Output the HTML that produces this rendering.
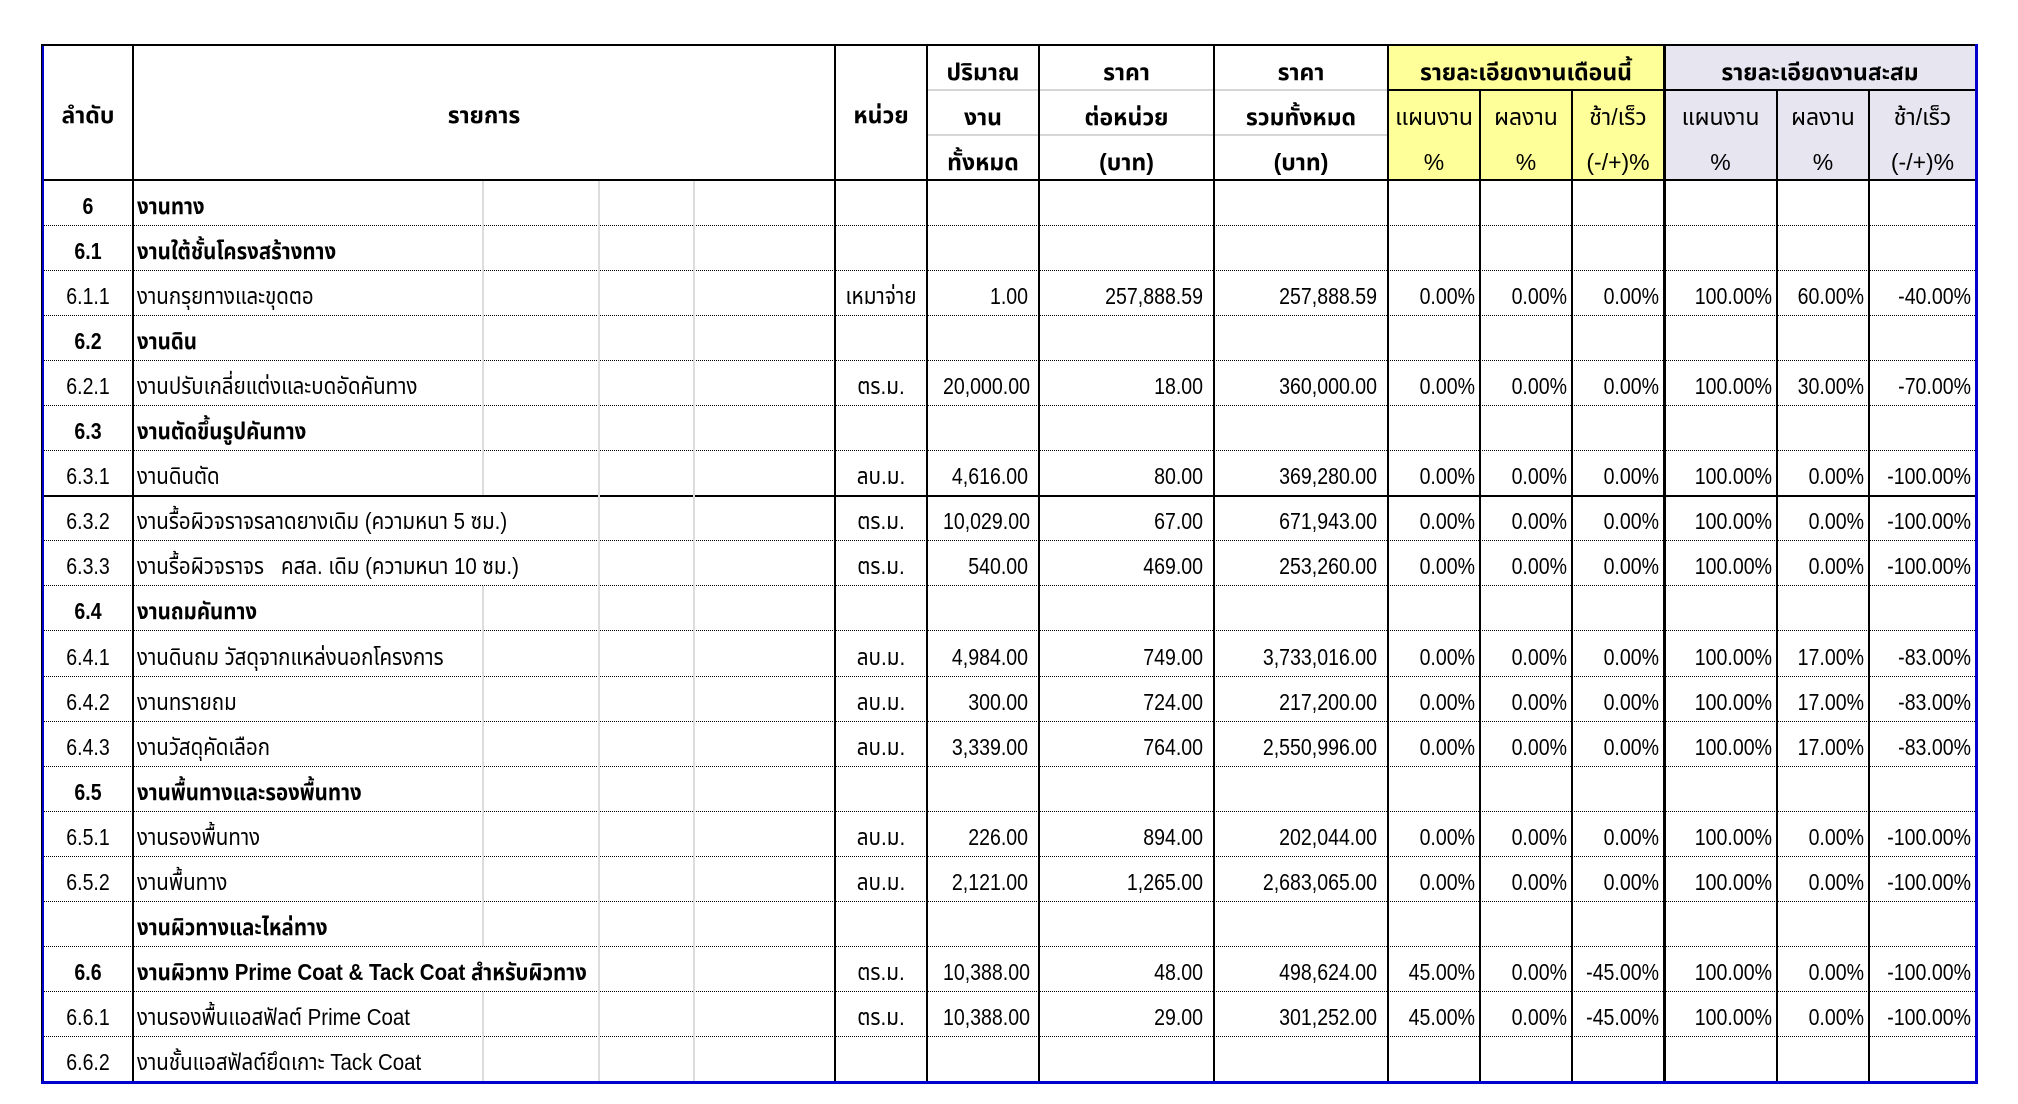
<!DOCTYPE html>
<html><head><meta charset="utf-8">
<style>
html,body{margin:0;padding:0}
body{width:2018px;height:1104px;background:#fff;position:relative;overflow:hidden}
.bg{position:absolute}
.h{position:absolute;left:43px;width:1932px;height:0;border-top:1px dotted #000}
.hs{position:absolute;height:2px;background:#000}
.v{position:absolute;width:2px;background:#000}
.g{position:absolute;width:2px;background:#dcdcdc}
.t{position:absolute;white-space:nowrap;color:#000;font-size:23px;line-height:22px;
 font-family:"Liberation Sans Narrow","Liberation Sans","Noto Sans Thai","Noto Sans Thai UI","Garuda","Loma","Tlwg Typo","DejaVu Sans","WenQuanYi Zen Hei",sans-serif}
.c{text-align:center}
.r{text-align:right}
.b{font-weight:bold}
.a{left:43px;width:90px;text-align:center;transform:scaleX(.85)}
.i{left:137px;transform:scaleX(.89);transform-origin:left center}
.u{left:836px;width:90px;text-align:center;transform:scaleX(.9)}
.q,.p,.s,.x1,.x2,.x3,.y1,.y2,.y3{text-align:right;transform:scaleX(.85);transform-origin:right center}
.q{left:928px;width:100px}
.p{left:1040px;width:163px}
.s{left:1215px;width:162px}
.x1{left:1389px;width:86px}
.x2{left:1481px;width:86px}
.x3{left:1573px;width:86px}
.y1{left:1665px;width:107px}
.y2{left:1778px;width:86px}
.y3{left:1870px;width:101px}
</style></head><body>

<!-- header backgrounds -->
<div class="bg" style="left:1388px;top:44px;width:276px;height:136px;background:#ffff99"></div>
<div class="bg" style="left:1664px;top:44px;width:311px;height:136px;background:#e7e5f0"></div>

<!-- header gray separators -->
<div class="bg" style="left:927px;top:89px;width:461px;height:2px;background:#d6d6d6"></div>
<div class="bg" style="left:927px;top:134px;width:461px;height:2px;background:#d6d6d6"></div>

<!-- horizontal solid lines -->
<div class="hs" style="left:41px;top:44px;width:1936px"></div>
<div class="hs" style="left:1388px;top:89px;width:587px"></div>
<div class="hs" style="left:41px;top:179px;width:1936px;height:2px"></div>

<!-- row separators -->
<div class="h" style="top:225px"></div>
<div class="h" style="top:270px"></div>
<div class="h" style="top:315px"></div>
<div class="h" style="top:360px"></div>
<div class="h" style="top:405px"></div>
<div class="h" style="top:450px"></div>
<div class="hs" style="left:43px;top:495px;width:1932px;height:2px"></div>
<div class="h" style="top:540px"></div>
<div class="h" style="top:585px"></div>
<div class="h" style="top:630px"></div>
<div class="h" style="top:676px"></div>
<div class="h" style="top:721px"></div>
<div class="h" style="top:766px"></div>
<div class="h" style="top:811px"></div>
<div class="h" style="top:856px"></div>
<div class="h" style="top:901px"></div>
<div class="h" style="top:946px"></div>
<div class="h" style="top:991px"></div>
<div class="h" style="top:1036px"></div>

<!-- gridlines inside item column -->
<div class="g" style="left:482px;top:181px;height:314px"></div>
<div class="g" style="left:482px;top:586px;height:360px"></div>
<div class="g" style="left:482px;top:992px;height:89px"></div>
<div class="g" style="left:598px;top:181px;height:900px"></div>
<div class="g" style="left:693px;top:181px;height:900px"></div>

<!-- vertical lines -->
<div class="v" style="left:132px;top:44px;height:1037px"></div>
<div class="v" style="left:834px;top:44px;height:1037px"></div>
<div class="v" style="left:926px;top:44px;height:1037px"></div>
<div class="v" style="left:1038px;top:44px;height:1037px"></div>
<div class="v" style="left:1213px;top:44px;height:1037px"></div>
<div class="v" style="left:1387px;top:44px;height:1037px"></div>
<div class="v" style="left:1479px;top:89px;height:992px"></div>
<div class="v" style="left:1571px;top:89px;height:992px"></div>
<div class="v" style="left:1663px;top:44px;height:1037px;width:3px"></div>
<div class="v" style="left:1776px;top:89px;height:992px"></div>
<div class="v" style="left:1868px;top:89px;height:992px"></div>

<!-- outer borders -->
<div class="bg" style="left:41px;top:44px;width:1px;height:1040px;background:#000"></div>
<div class="bg" style="left:42px;top:46px;width:2px;height:1038px;background:#0000cc"></div>
<div class="bg" style="left:1975px;top:44px;width:3px;height:1040px;background:#0000cc"></div>
<div class="bg" style="left:41px;top:1081px;width:1937px;height:3px;background:#0000cc"></div>

<!-- header text -->
<div class="t c b" style="left:43px;width:90px;top:104px">ลำดับ</div>
<div class="t c b" style="left:134px;width:700px;top:104px">รายการ</div>
<div class="t c b" style="left:836px;width:90px;top:104px">หน่วย</div>
<div class="t c b" style="left:928px;width:110px;top:61px">ปริมาณ</div>
<div class="t c b" style="left:928px;width:110px;top:106px">งาน</div>
<div class="t c b" style="left:928px;width:110px;top:151px">ทั้งหมด</div>
<div class="t c b" style="left:1040px;width:173px;top:61px">ราคา</div>
<div class="t c b" style="left:1040px;width:173px;top:106px">ต่อหน่วย</div>
<div class="t c b" style="left:1040px;width:173px;top:151px">(บาท)</div>
<div class="t c b" style="left:1215px;width:172px;top:61px">ราคา</div>
<div class="t c b" style="left:1215px;width:172px;top:106px">รวมทั้งหมด</div>
<div class="t c b" style="left:1215px;width:172px;top:151px">(บาท)</div>
<div class="t c b" style="left:1389px;width:274px;top:61px">รายละเอียดงานเดือนนี้</div>
<div class="t c b" style="left:1665px;width:310px;top:61px">รายละเอียดงานสะสม</div>
<div class="t c" style="left:1389px;width:90px;top:106px">แผนงาน</div>
<div class="t c" style="left:1389px;width:90px;top:151px">%</div>
<div class="t c" style="left:1481px;width:90px;top:106px">ผลงาน</div>
<div class="t c" style="left:1481px;width:90px;top:151px">%</div>
<div class="t c" style="left:1573px;width:90px;top:106px">ช้า/เร็ว</div>
<div class="t c" style="left:1573px;width:90px;top:151px">(-/+)%</div>
<div class="t c" style="left:1665px;width:111px;top:106px">แผนงาน</div>
<div class="t c" style="left:1665px;width:111px;top:151px">%</div>
<div class="t c" style="left:1778px;width:90px;top:106px">ผลงาน</div>
<div class="t c" style="left:1778px;width:90px;top:151px">%</div>
<div class="t c" style="left:1870px;width:105px;top:106px">ช้า/เร็ว</div>
<div class="t c" style="left:1870px;width:105px;top:151px">(-/+)%</div>

<!-- row 0: 6 -->
<div class="t a b" style="top:195px">6</div>
<div class="t i b" style="top:195px">งานทาง</div>

<!-- row 1: 6.1 -->
<div class="t a b" style="top:240px">6.1</div>
<div class="t i b" style="top:240px">งานใต้ชั้นโครงสร้างทาง</div>

<!-- row 2: 6.1.1 -->
<div class="t a" style="top:285px">6.1.1</div>
<div class="t i" style="top:285px">งานกรุยทางและขุดตอ</div>
<div class="t u" style="top:285px">เหมาจ่าย</div>
<div class="t q" style="top:285px">1.00</div>
<div class="t p" style="top:285px">257,888.59</div>
<div class="t s" style="top:285px">257,888.59</div>
<div class="t x1" style="top:285px">0.00%</div>
<div class="t x2" style="top:285px">0.00%</div>
<div class="t x3" style="top:285px">0.00%</div>
<div class="t y1" style="top:285px">100.00%</div>
<div class="t y2" style="top:285px">60.00%</div>
<div class="t y3" style="top:285px">-40.00%</div>

<!-- row 3: 6.2 -->
<div class="t a b" style="top:330px">6.2</div>
<div class="t i b" style="top:330px">งานดิน</div>

<!-- row 4: 6.2.1 -->
<div class="t a" style="top:375px">6.2.1</div>
<div class="t i" style="top:375px">งานปรับเกลี่ยแต่งและบดอัดคันทาง</div>
<div class="t u" style="top:375px">ตร.ม.</div>
<div class="t q" style="top:375px">20,000.00</div>
<div class="t p" style="top:375px">18.00</div>
<div class="t s" style="top:375px">360,000.00</div>
<div class="t x1" style="top:375px">0.00%</div>
<div class="t x2" style="top:375px">0.00%</div>
<div class="t x3" style="top:375px">0.00%</div>
<div class="t y1" style="top:375px">100.00%</div>
<div class="t y2" style="top:375px">30.00%</div>
<div class="t y3" style="top:375px">-70.00%</div>

<!-- row 5: 6.3 -->
<div class="t a b" style="top:420px">6.3</div>
<div class="t i b" style="top:420px">งานตัดขึ้นรูปคันทาง</div>

<!-- row 6: 6.3.1 -->
<div class="t a" style="top:465px">6.3.1</div>
<div class="t i" style="top:465px">งานดินตัด</div>
<div class="t u" style="top:465px">ลบ.ม.</div>
<div class="t q" style="top:465px">4,616.00</div>
<div class="t p" style="top:465px">80.00</div>
<div class="t s" style="top:465px">369,280.00</div>
<div class="t x1" style="top:465px">0.00%</div>
<div class="t x2" style="top:465px">0.00%</div>
<div class="t x3" style="top:465px">0.00%</div>
<div class="t y1" style="top:465px">100.00%</div>
<div class="t y2" style="top:465px">0.00%</div>
<div class="t y3" style="top:465px">-100.00%</div>

<!-- row 7: 6.3.2 -->
<div class="t a" style="top:510px">6.3.2</div>
<div class="t i" style="top:510px">งานรื้อผิวจราจรลาดยางเดิม (ความหนา 5 ซม.)</div>
<div class="t u" style="top:510px">ตร.ม.</div>
<div class="t q" style="top:510px">10,029.00</div>
<div class="t p" style="top:510px">67.00</div>
<div class="t s" style="top:510px">671,943.00</div>
<div class="t x1" style="top:510px">0.00%</div>
<div class="t x2" style="top:510px">0.00%</div>
<div class="t x3" style="top:510px">0.00%</div>
<div class="t y1" style="top:510px">100.00%</div>
<div class="t y2" style="top:510px">0.00%</div>
<div class="t y3" style="top:510px">-100.00%</div>

<!-- row 8: 6.3.3 -->
<div class="t a" style="top:555px">6.3.3</div>
<div class="t i" style="top:555px">งานรื้อผิวจราจร&nbsp;&nbsp; คสล. เดิม (ความหนา 10 ซม.)</div>
<div class="t u" style="top:555px">ตร.ม.</div>
<div class="t q" style="top:555px">540.00</div>
<div class="t p" style="top:555px">469.00</div>
<div class="t s" style="top:555px">253,260.00</div>
<div class="t x1" style="top:555px">0.00%</div>
<div class="t x2" style="top:555px">0.00%</div>
<div class="t x3" style="top:555px">0.00%</div>
<div class="t y1" style="top:555px">100.00%</div>
<div class="t y2" style="top:555px">0.00%</div>
<div class="t y3" style="top:555px">-100.00%</div>

<!-- row 9: 6.4 -->
<div class="t a b" style="top:600px">6.4</div>
<div class="t i b" style="top:600px">งานถมคันทาง</div>

<!-- row 10: 6.4.1 -->
<div class="t a" style="top:646px">6.4.1</div>
<div class="t i" style="top:646px">งานดินถม วัสดุจากแหล่งนอกโครงการ</div>
<div class="t u" style="top:646px">ลบ.ม.</div>
<div class="t q" style="top:646px">4,984.00</div>
<div class="t p" style="top:646px">749.00</div>
<div class="t s" style="top:646px">3,733,016.00</div>
<div class="t x1" style="top:646px">0.00%</div>
<div class="t x2" style="top:646px">0.00%</div>
<div class="t x3" style="top:646px">0.00%</div>
<div class="t y1" style="top:646px">100.00%</div>
<div class="t y2" style="top:646px">17.00%</div>
<div class="t y3" style="top:646px">-83.00%</div>

<!-- row 11: 6.4.2 -->
<div class="t a" style="top:691px">6.4.2</div>
<div class="t i" style="top:691px">งานทรายถม</div>
<div class="t u" style="top:691px">ลบ.ม.</div>
<div class="t q" style="top:691px">300.00</div>
<div class="t p" style="top:691px">724.00</div>
<div class="t s" style="top:691px">217,200.00</div>
<div class="t x1" style="top:691px">0.00%</div>
<div class="t x2" style="top:691px">0.00%</div>
<div class="t x3" style="top:691px">0.00%</div>
<div class="t y1" style="top:691px">100.00%</div>
<div class="t y2" style="top:691px">17.00%</div>
<div class="t y3" style="top:691px">-83.00%</div>

<!-- row 12: 6.4.3 -->
<div class="t a" style="top:736px">6.4.3</div>
<div class="t i" style="top:736px">งานวัสดุคัดเลือก</div>
<div class="t u" style="top:736px">ลบ.ม.</div>
<div class="t q" style="top:736px">3,339.00</div>
<div class="t p" style="top:736px">764.00</div>
<div class="t s" style="top:736px">2,550,996.00</div>
<div class="t x1" style="top:736px">0.00%</div>
<div class="t x2" style="top:736px">0.00%</div>
<div class="t x3" style="top:736px">0.00%</div>
<div class="t y1" style="top:736px">100.00%</div>
<div class="t y2" style="top:736px">17.00%</div>
<div class="t y3" style="top:736px">-83.00%</div>

<!-- row 13: 6.5 -->
<div class="t a b" style="top:781px">6.5</div>
<div class="t i b" style="top:781px">งานพื้นทางและรองพื้นทาง</div>

<!-- row 14: 6.5.1 -->
<div class="t a" style="top:826px">6.5.1</div>
<div class="t i" style="top:826px">งานรองพื้นทาง</div>
<div class="t u" style="top:826px">ลบ.ม.</div>
<div class="t q" style="top:826px">226.00</div>
<div class="t p" style="top:826px">894.00</div>
<div class="t s" style="top:826px">202,044.00</div>
<div class="t x1" style="top:826px">0.00%</div>
<div class="t x2" style="top:826px">0.00%</div>
<div class="t x3" style="top:826px">0.00%</div>
<div class="t y1" style="top:826px">100.00%</div>
<div class="t y2" style="top:826px">0.00%</div>
<div class="t y3" style="top:826px">-100.00%</div>

<!-- row 15: 6.5.2 -->
<div class="t a" style="top:871px">6.5.2</div>
<div class="t i" style="top:871px">งานพื้นทาง</div>
<div class="t u" style="top:871px">ลบ.ม.</div>
<div class="t q" style="top:871px">2,121.00</div>
<div class="t p" style="top:871px">1,265.00</div>
<div class="t s" style="top:871px">2,683,065.00</div>
<div class="t x1" style="top:871px">0.00%</div>
<div class="t x2" style="top:871px">0.00%</div>
<div class="t x3" style="top:871px">0.00%</div>
<div class="t y1" style="top:871px">100.00%</div>
<div class="t y2" style="top:871px">0.00%</div>
<div class="t y3" style="top:871px">-100.00%</div>

<!-- row 16: section -->
<div class="t i b" style="top:916px">งานผิวทางและไหล่ทาง</div>

<!-- row 17: 6.6 -->
<div class="t a b" style="top:961px">6.6</div>
<div class="t i b" style="top:961px">งานผิวทาง Prime Coat &amp; Tack Coat สำหรับผิวทาง</div>
<div class="t u" style="top:961px">ตร.ม.</div>
<div class="t q" style="top:961px">10,388.00</div>
<div class="t p" style="top:961px">48.00</div>
<div class="t s" style="top:961px">498,624.00</div>
<div class="t x1" style="top:961px">45.00%</div>
<div class="t x2" style="top:961px">0.00%</div>
<div class="t x3" style="top:961px">-45.00%</div>
<div class="t y1" style="top:961px">100.00%</div>
<div class="t y2" style="top:961px">0.00%</div>
<div class="t y3" style="top:961px">-100.00%</div>

<!-- row 18: 6.6.1 -->
<div class="t a" style="top:1006px">6.6.1</div>
<div class="t i" style="top:1006px">งานรองพื้นแอสฟัลต์ Prime Coat</div>
<div class="t u" style="top:1006px">ตร.ม.</div>
<div class="t q" style="top:1006px">10,388.00</div>
<div class="t p" style="top:1006px">29.00</div>
<div class="t s" style="top:1006px">301,252.00</div>
<div class="t x1" style="top:1006px">45.00%</div>
<div class="t x2" style="top:1006px">0.00%</div>
<div class="t x3" style="top:1006px">-45.00%</div>
<div class="t y1" style="top:1006px">100.00%</div>
<div class="t y2" style="top:1006px">0.00%</div>
<div class="t y3" style="top:1006px">-100.00%</div>

<!-- row 19: 6.6.2 -->
<div class="t a" style="top:1051px">6.6.2</div>
<div class="t i" style="top:1051px">งานชั้นแอสฟัลต์ยึดเกาะ Tack Coat</div>

</body></html>
